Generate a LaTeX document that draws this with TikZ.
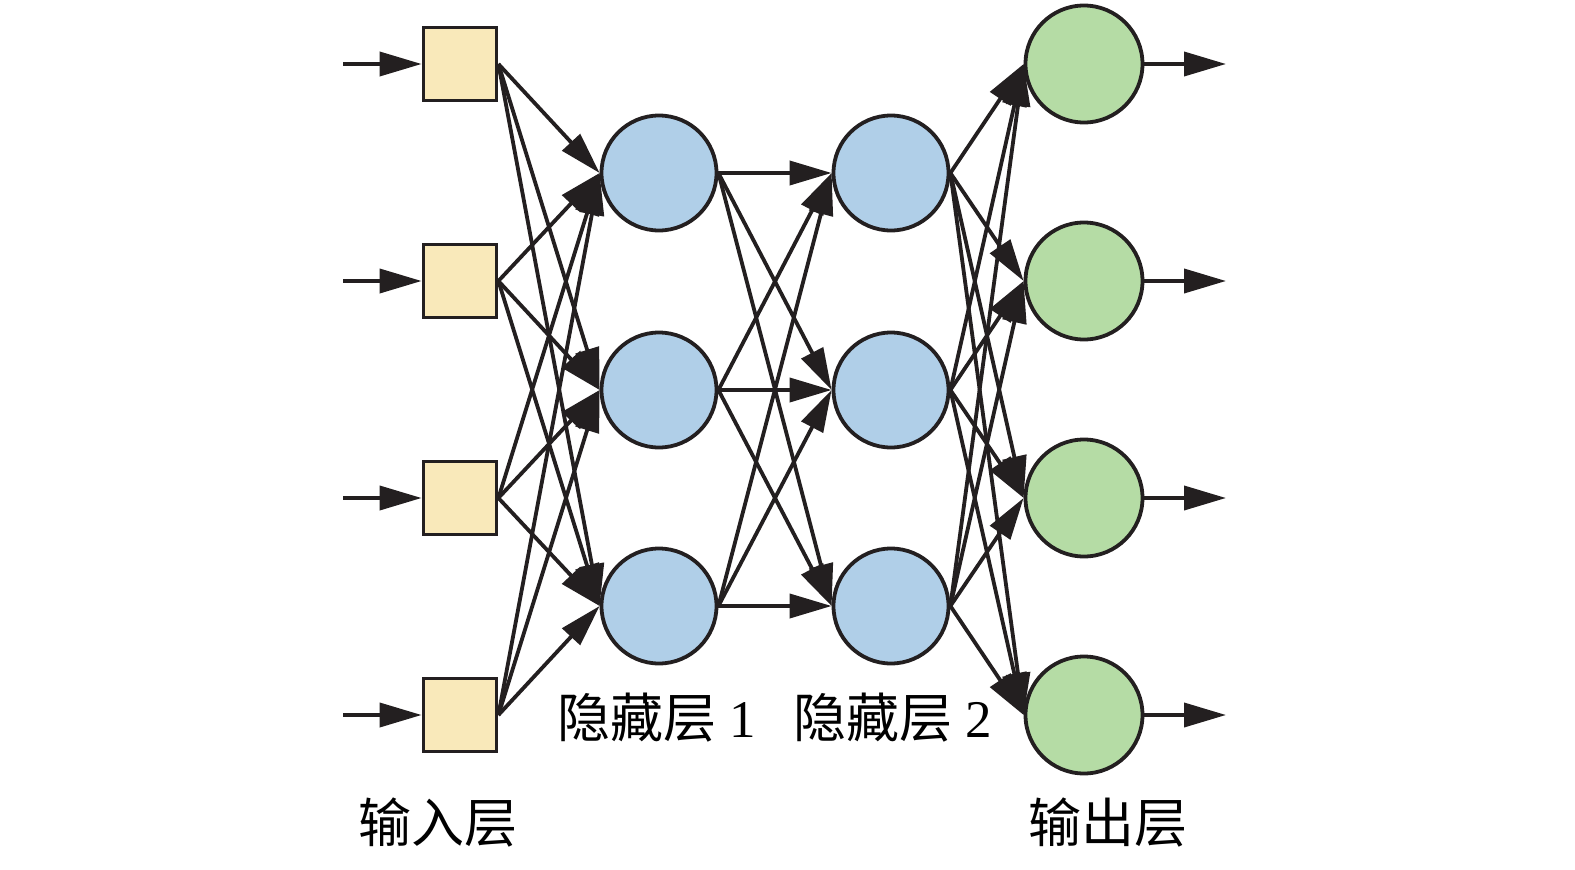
\documentclass[tikz,border=0pt]{standalone}
\usepackage{fontspec}
\setmainfont{Liberation Serif}
\newfontfamily\cjk{Noto Sans CJK SC}
\usetikzlibrary{arrows.meta}
\definecolor{lc}{HTML}{231F20}
\definecolor{yel}{HTML}{F9E9BA}
\definecolor{blu}{HTML}{B0CFE8}
\definecolor{grn}{HTML}{B5DCA5}
\begin{document}
\begin{tikzpicture}[x=1pt,y=-1pt,line width=3.8pt,
  inbox/.style={draw=lc,fill=yel,minimum size=73pt,inner sep=0pt},
  hid/.style={circle,draw=lc,fill=blu,minimum size=115pt,inner sep=0pt},
  outc/.style={circle,draw=lc,fill=grn,minimum size=117pt,inner sep=0pt},
  arr/.style={draw=lc,-{Triangle[length=42pt,width=24pt]}},
  lbl/.style={font=\fontsize{53}{58}\selectfont,inner sep=0pt}]
\useasboundingbox (0,0) rectangle (1575,870);
\foreach \i/\y in {1/64,2/281,3/498,4/715}{
  \node[inbox] (i\i) at (460,\y) {};
  \node[outc] (o\i) at (1084,\y) {};
  \coordinate (s\i) at (343,\y);
  \coordinate (e\i) at (1226,\y);
}
\foreach \j/\y in {1/173,2/390,3/606}{
  \node[hid] (a\j) at (659,\y) {};
  \node[hid] (b\j) at (891,\y) {};
}
\foreach \i in {1,...,4}{
  \draw[arr] (s\i) -- (i\i.west);
  \draw[arr] (o\i.east) -- (e\i);
  \foreach \j in {1,2,3}{
    \draw[arr] (i\i.east) -- (a\j.west);
    \draw[arr] (b\j.east) -- (o\i.west);
  }
}
\foreach \j in {1,2,3}{
  \foreach \k in {1,2,3}{
    \draw[arr] (a\j.east) -- (b\k.west);
  }
}
\node[lbl] (l1) at (438,823) {{\cjk 输入层}};
\node[lbl] (l2) at (657,718) {{\cjk 隐藏层} 1};
\node[lbl] (l3) at (893,718) {{\cjk 隐藏层} 2};
\node[lbl] (l4) at (1108,823) {{\cjk 输出层}};
\end{tikzpicture}
\end{document}
